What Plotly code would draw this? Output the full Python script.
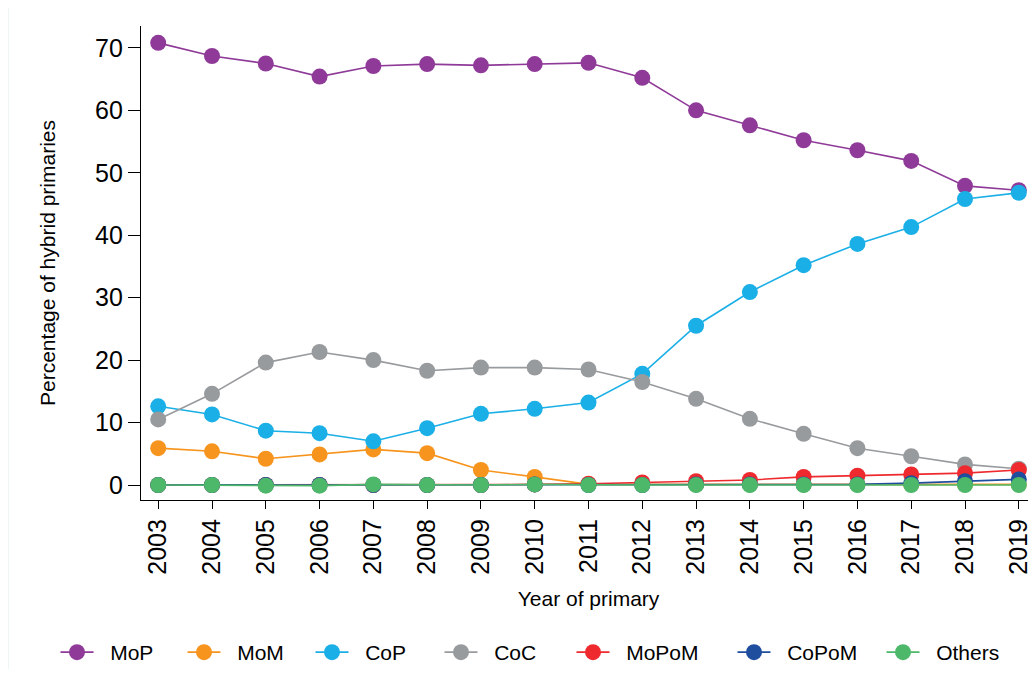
import plotly.graph_objects as go

years = list(range(2003, 2020))
series_names = ["MoP", "MoM", "CoP", "CoC", "MoPoM", "CoPoM", "Others"]
mop = [70.8, 68.7, 67.5, 65.4, 67.1, 67.4, 67.2, 67.4, 67.6, 65.2, 60.0, 57.6, 55.2, 53.6, 51.9, 47.9, 47.2]
mom = [5.9, 5.4, 4.2, 4.9, 5.7, 5.1, 2.4, 1.3, 0.1, 0.1, 0.1, 0.1, 0.1, 0.1, 0.1, 0.1, 0.1]
cop = [12.6, 11.3, 8.7, 8.3, 7.0, 9.1, 11.4, 12.2, 13.2, 17.8, 25.5, 30.9, 35.2, 38.6, 41.3, 45.8, 46.8]
coc = [10.5, 14.6, 19.6, 21.3, 20.0, 18.3, 18.8, 18.8, 18.5, 16.5, 13.8, 10.6, 8.2, 5.9, 4.6, 3.3, 2.6]
mopom = [0.0, 0.0, 0.0, 0.0, 0.0, 0.0, 0.0, 0.1, 0.2, 0.4, 0.6, 0.8, 1.3, 1.5, 1.7, 1.9, 2.4]
copom = [0.0, 0.0, 0.0, 0.0, 0.0, 0.0, 0.0, 0.1, 0.0, 0.0, 0.1, 0.1, 0.1, 0.1, 0.3, 0.6, 0.9]
others = [0.0, 0.0, -0.1, -0.1, 0.1, 0.0, 0.0, 0.1, 0.0, 0.0, 0.0, 0.0, 0.0, 0.0, 0.0, 0.0, 0.0]
colors = ["#8F3A98", "#F7941D", "#1AAFE6", "#989B9E", "#EE2A2E", "#1F4E9E", "#4DB86A"]

# figure geometry (page body adds an 8px offset)
W, H = 1028, 665
L, R, T, B = 133, 0, 18, 170
PW, PH = W - L - R, H - T - B
legend_centers = [70, 197, 325, 454, 586, 747, 896]  # px, symbol centres
legend_y_px = 649
ITEMW = 33
PAD = "\u00a0\u00a0"

font = "Liberation Sans, Arial, sans-serif"
fig = go.Figure()
legend_layout = {}
for i, (name, vals, col) in enumerate(zip(series_names, [mop, mom, cop, coc, mopom, copom, others], colors)):
    lg = "legend" if i == 0 else f"legend{i + 1}"
    fig.add_trace(go.Scatter(
        x=years, y=vals, name=PAD + name, mode="lines+markers",
        line=dict(color=col, width=1.6),
        marker=dict(color=col, size=16),
        cliponaxis=False, legend=lg,
    ))
    legend_layout[lg] = dict(
        orientation="h", xanchor="left", yanchor="middle",
        x=(legend_centers[i] - (ITEMW / 2 + 6) - L) / PW, y=(H - B - legend_y_px) / PH,
        font=dict(size=21, family=font, color="black"), itemwidth=ITEMW,
        bgcolor="rgba(0,0,0,0)", borderwidth=0,
    )

fig.update_layout(
    width=W, height=H,
    margin=dict(l=L, r=R, t=T, b=B),
    paper_bgcolor="white", plot_bgcolor="white",
    font=dict(family=font, color="black"),
    showlegend=True,
    xaxis=dict(
        range=[2002.68, 2019.32], tickmode="array", tickvals=years,
        ticktext=[str(y) for y in years], tickangle=-90,
        tickfont=dict(size=25), ticks="outside", ticklen=8, tickcolor="black",
        showline=True, linecolor="black", linewidth=1.3, showgrid=False, zeroline=False,
        title=dict(text="Year of primary", font=dict(size=21), standoff=17),
    ),
    yaxis=dict(
        range=[-2.4, 73.5], tickvals=[0, 10, 20, 30, 40, 50, 60, 70],
        tickfont=dict(size=25), ticks="outside", ticklen=12, tickcolor="black",
        showline=True, linecolor="black", linewidth=1.3, showgrid=False, zeroline=False,
        title=dict(text="Percentage of hybrid primaries", font=dict(size=21), standoff=33),
    ),
    **legend_layout,
)
fig.add_shape(type="line", xref="paper", yref="paper", x0=-L / PW, x1=-L / PW,
              y0=-B / PH, y1=1 + T / PH, line=dict(color="#DDEEEE", width=1))
fig.write_html("out.html")
